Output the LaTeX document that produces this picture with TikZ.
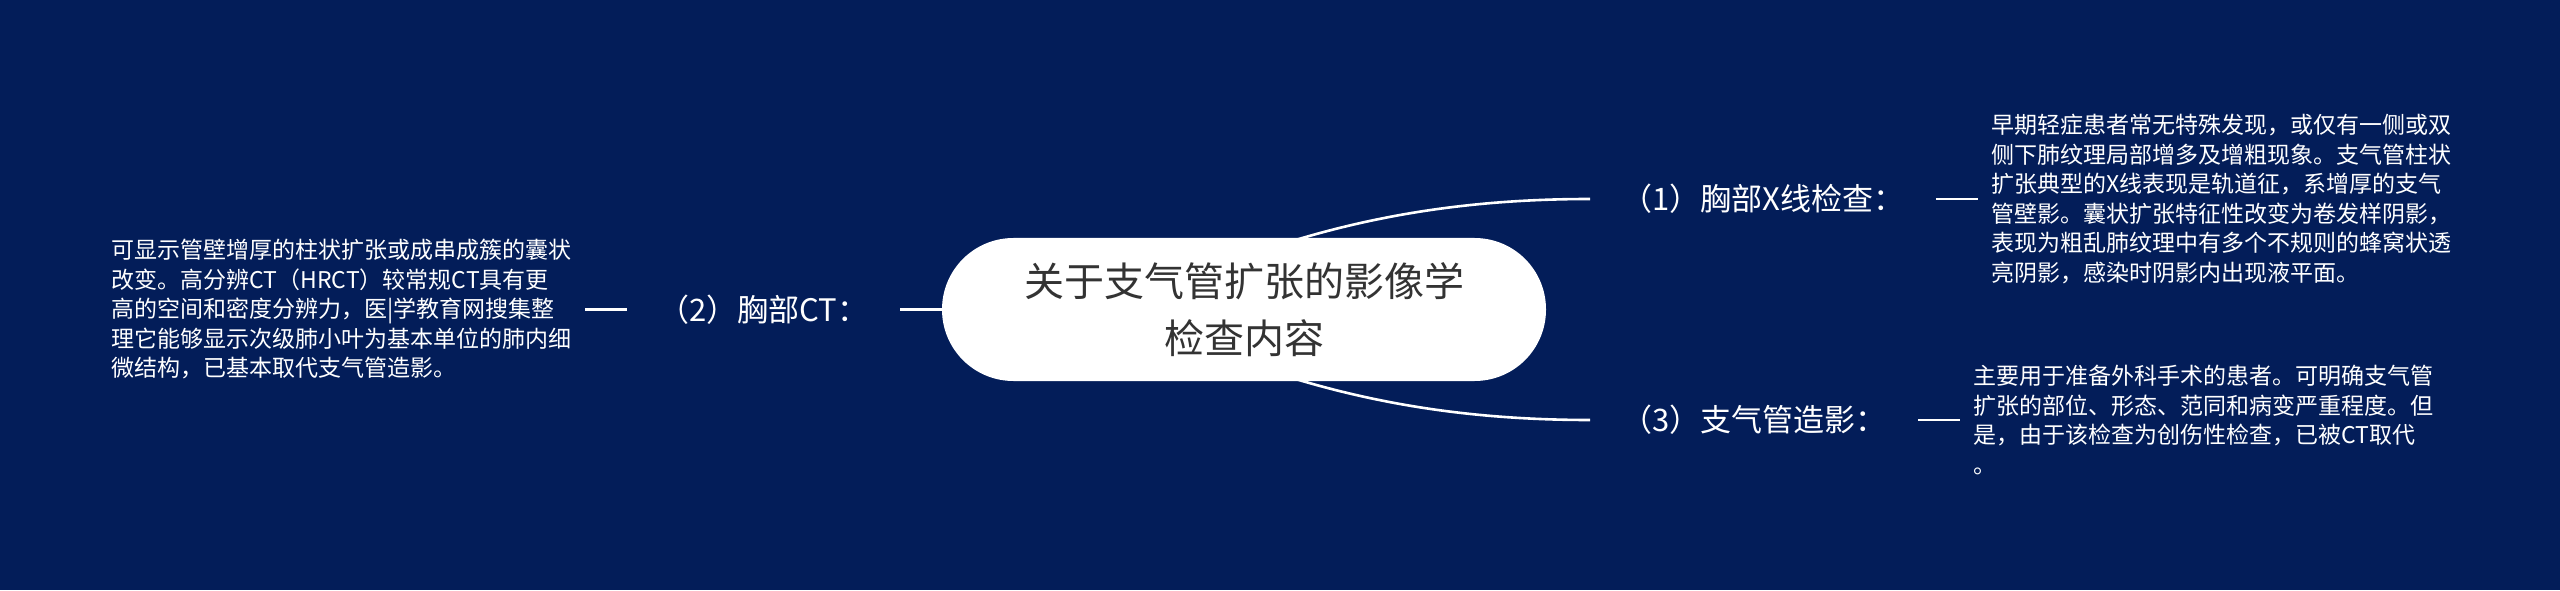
\documentclass[tikz,border=0pt]{standalone}
\usepackage{fontspec}
\setmainfont{Noto Sans CJK SC}
\usetikzlibrary{positioning}
\definecolor{navy}{RGB}{3,29,89}
\definecolor{ink}{RGB}{51,51,51}
\pgfdeclarelayer{back}
\pgfsetlayers{back,main}
\tikzstyle{topic} = [rectangle, fill=white, rounded corners=35.7pt, minimum width=302pt, minimum height=71.5pt, text=ink, align=center, font=\fontsize{20pt}{28.5pt}\selectfont]
\tikzstyle{sub} = [rectangle, inner xsep=15.5pt, text=white, font=\fontsize{15.5pt}{18pt}\selectfont]
\tikzstyle{leaf} = [rectangle, inner xsep=6.5pt, text=white, align=left, font=\fontsize{11.5pt}{14.75pt}\selectfont]
\tikzstyle{link} = [draw=white, line width=1.3pt]

\begin{document}
\begin{tikzpicture}
    \begin{pgfonlayer}{back}
        \fill[navy] (0,0) rectangle (1280pt,295pt);
    \end{pgfonlayer}
    \useasboundingbox (0,0) rectangle (1280pt,295pt);

    \node[topic] (root) at (622pt,140.25pt) {关于支气管扩张的影像学\\检查内容};
    \node[sub, anchor=west] (xray) at (795pt,195.5pt) {（1）胸部X线检查：};
    \node[sub, anchor=west] (angio) at (795pt,85pt) {（3）支气管造影：};
    \node[sub, left=21pt of root] (ct) {（2）胸部CT：};

    \node[leaf, right=21pt of xray] (xrayinfo) {早期轻症患者常无特殊发现，或仅有一侧或双\\侧下肺纹理局部增多及增粗现象。支气管柱状\\扩张典型的X线表现是轨道征，系增厚的支气\\管壁影。囊状扩张特征性改变为卷发样阴影，\\表现为粗乱肺纹理中有多个不规则的蜂窝状透\\亮阴影，感染时阴影内出现液平面。};
    \node[leaf, right=21pt of angio] (angioinfo) {主要用于准备外科手术的患者。可明确支气管\\扩张的部位、形态、范同和病变严重程度。但\\是，由于该检查为创伤性检查，已被CT取代\\。};
    \node[leaf, left=21pt of ct] (ctinfo) {可显示管壁增厚的柱状扩张或成串成簇的囊状\\改变。高分辨CT（HRCT）较常规CT具有更\\高的空间和密度分辨力，医|学教育网搜集整\\理它能够显示次级肺小叶为基本单位的肺内细\\微结构，已基本取代支气管造影。};

    % curved branches run under the root
    \begin{pgfonlayer}{back}
        \path[link] ([shift={(-7pt,23.75pt)}]root.center) .. controls +(50pt,18.5pt) and +(-75pt,0pt) .. (xray.west);
        \path[link] ([shift={(-7pt,-23.75pt)}]root.center) .. controls +(50pt,-18.5pt) and +(-75pt,0pt) .. (angio.west);
    \end{pgfonlayer}
    \path[link] (root) -- (ct);
    \path[link] (ct) -- (ctinfo);
    \path[link] (xray) -- (xrayinfo);
    \path[link] (angio) -- (angioinfo);
\end{tikzpicture}
\end{document}
